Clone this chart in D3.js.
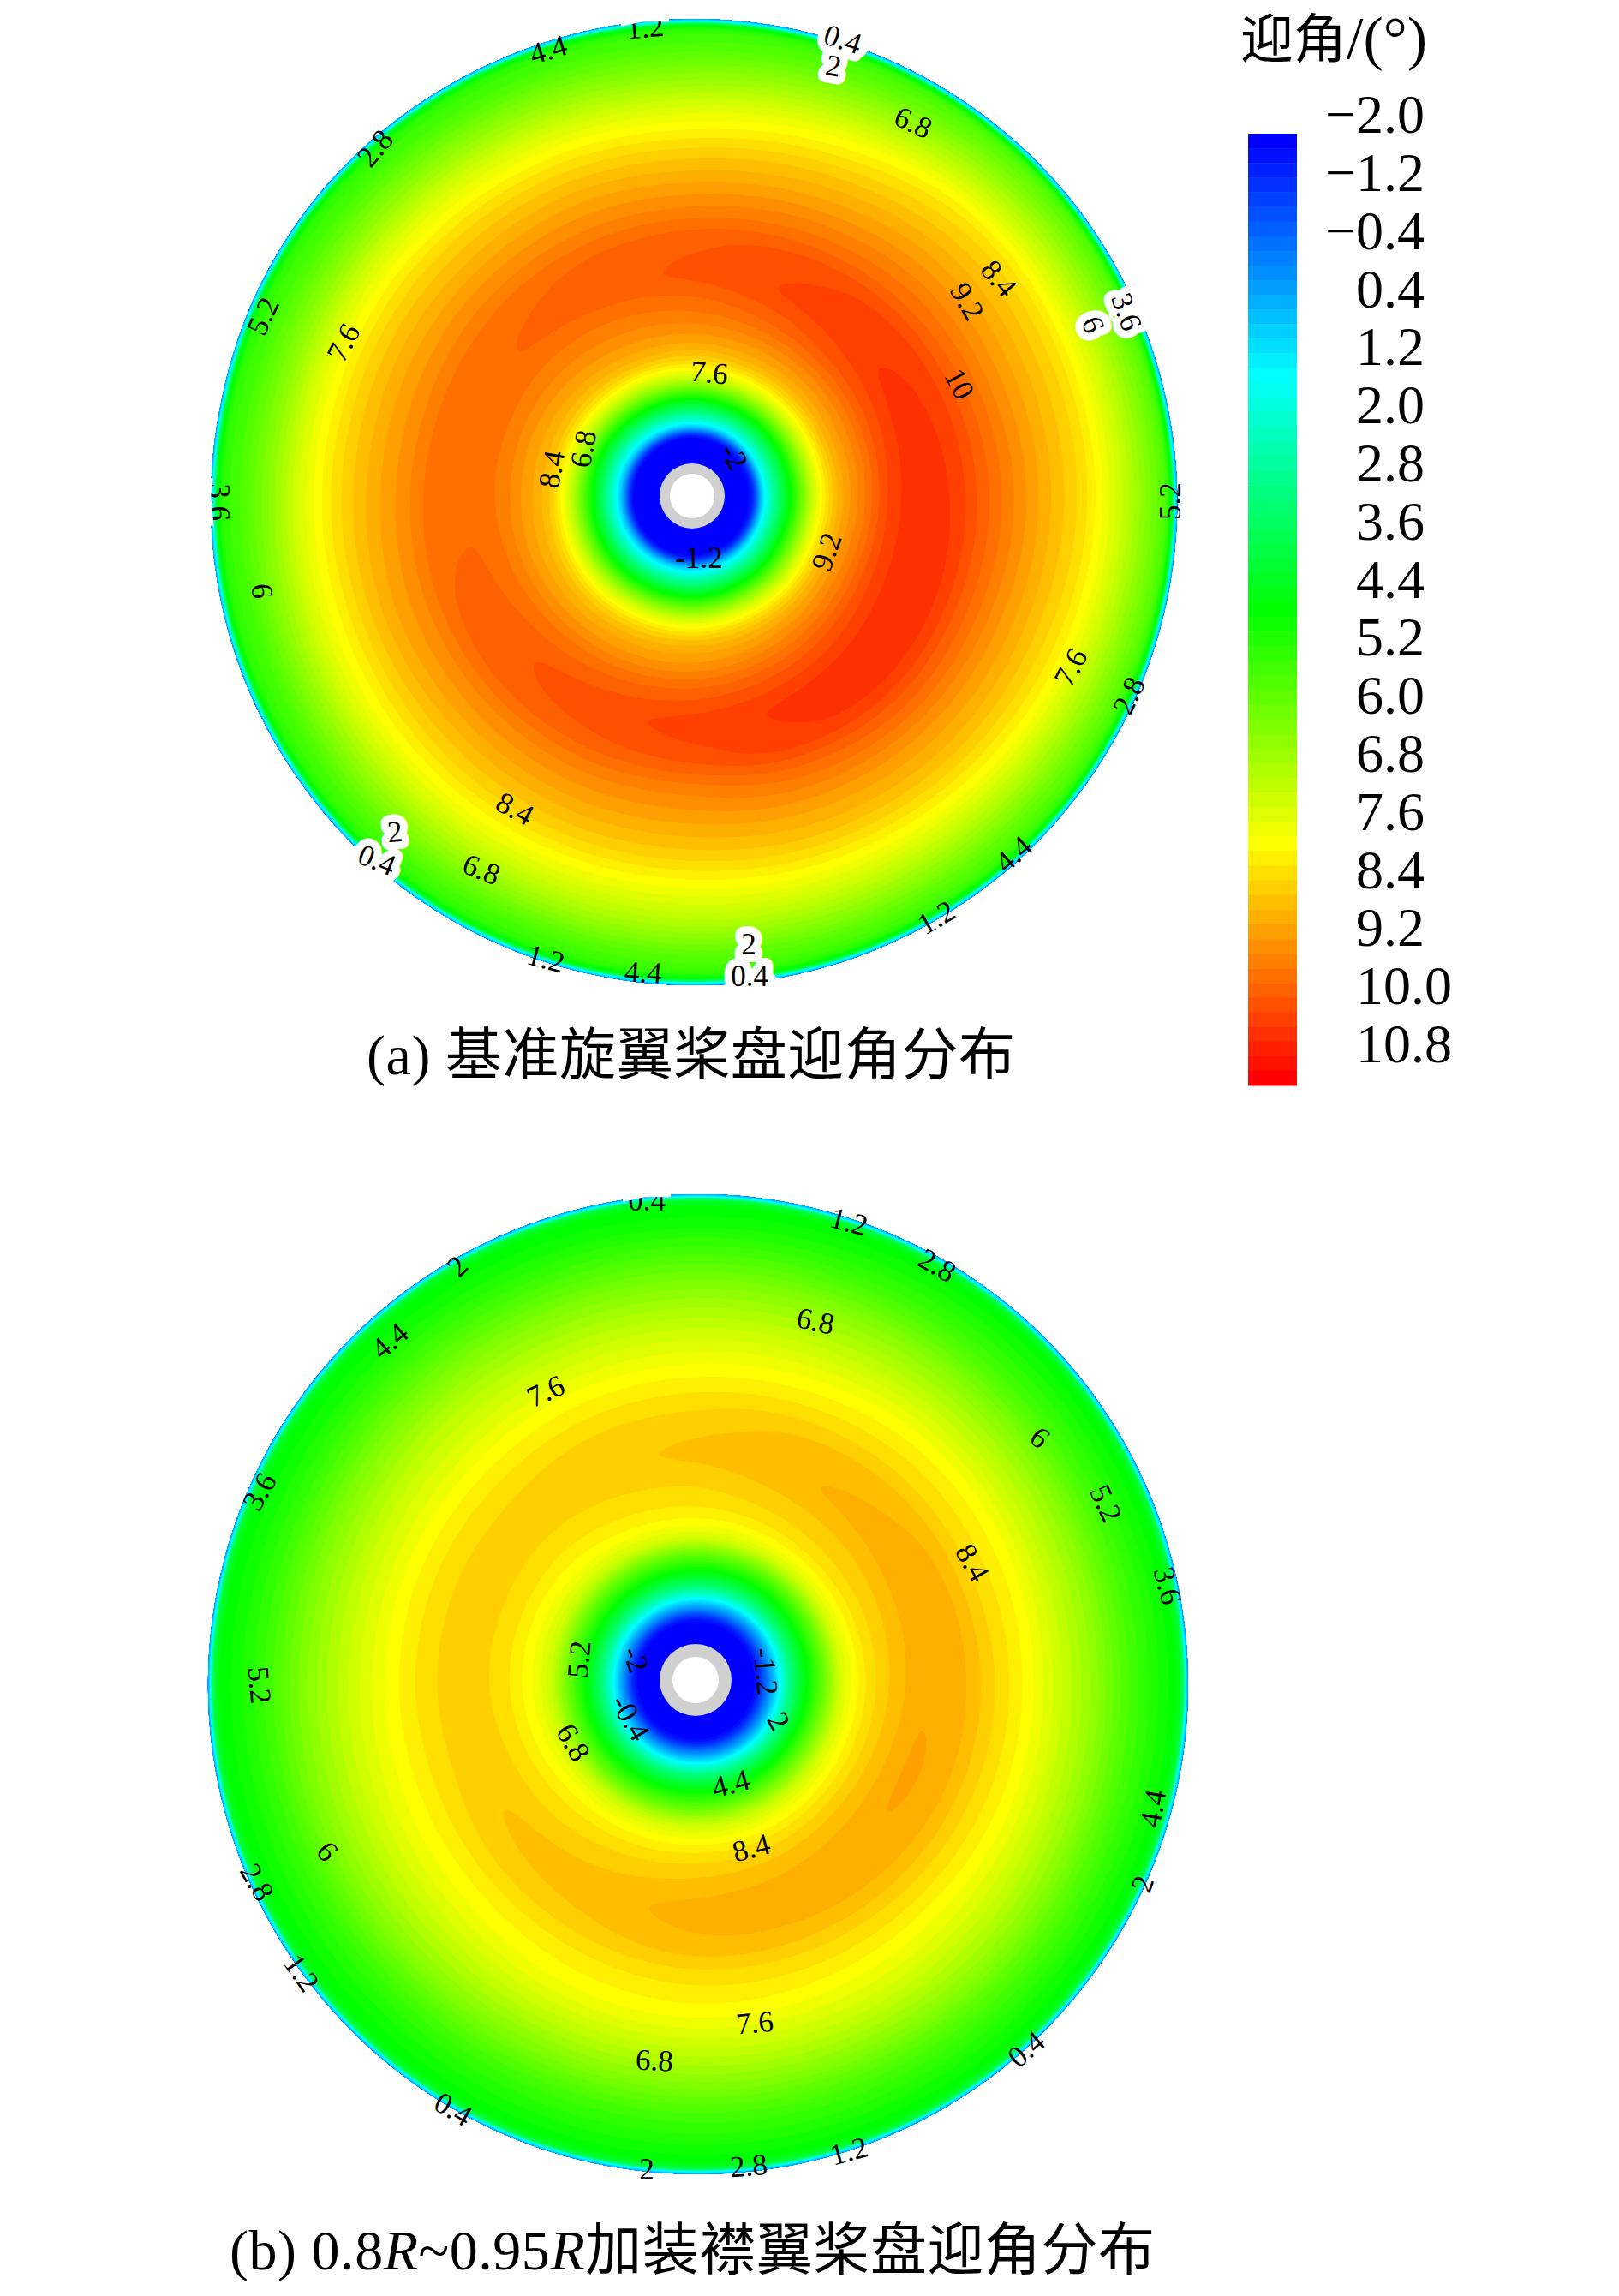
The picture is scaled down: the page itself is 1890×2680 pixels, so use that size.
<!DOCTYPE html>
<html>
<head>
<meta charset="utf-8">
<script src="https://cdn.jsdelivr.net/npm/d3@7"></script>
<style>
  html, body { margin: 0; background: #fff; }
  text { font-family: "Liberation Serif", "Noto Sans CJK SC", serif; fill: #000; }
</style>
</head>
<body>
<svg id="canvas" width="1890" height="2680"></svg>
<script>
// radial stations, fraction of the local rim radius
let stations = [0.06, 0.12, 0.15, 0.2, 0.26, 0.3, 0.35, 0.41, 0.47, 0.53, 0.6, 0.67, 0.74, 0.81, 0.88, 0.94, 0.975, 0.988, 0.996, 1];
// azimuth of each table row, degrees clockwise on screen from the +x side
let azimuths = [0, 22.5, 45, 67.5, 90, 112.5, 135, 157.5, 180, 202.5, 225, 247.5, 270, 292.5, 315, 337.5];

let aoaBaseline = [
  [-3, -1.8, 1.2, 4.3, 7.4, 8.5, 9.2, 9.95, 10.25, 10.1, 9.6, 9.05, 8.5, 7.95, 7, 6, 5.3, 4.2, 1.2, 0.2],
  [-3, -1.8, 1.2, 4.4, 7.5, 8.55, 9.25, 9.95, 10.25, 10.15, 9.6, 9, 8.45, 7.85, 6.9, 5.9, 5.2, 4.2, 1.2, 0.2],
  [-3, -1.9, 1, 4.3, 7.4, 8.5, 9.2, 9.85, 10.2, 10.15, 9.6, 8.95, 8.4, 7.7, 6.7, 5.7, 5.1, 4.1, 1.2, 0.2],
  [-3, -1.9, 0.9, 4.2, 7.4, 8.45, 9.1, 9.75, 10.12, 10.05, 9.45, 8.85, 8.3, 7.55, 6.6, 5.6, 5, 4, 1.2, 0.2],
  [-3, -2, 0.8, 4.1, 7.3, 8.4, 9, 9.65, 9.97, 9.8, 9.2, 8.7, 8.15, 7.4, 6.5, 5.5, 5, 4, 1.2, 0.2],
  [-3, -2, 0.8, 4.1, 7.3, 8.35, 8.95, 9.55, 9.83, 9.68, 9.15, 8.65, 8.1, 7.35, 6.4, 5.4, 4.9, 4, 1.2, 0.2],
  [-3, -2, 0.7, 4, 7.2, 8.3, 8.9, 9.45, 9.69, 9.6, 9.1, 8.6, 8.05, 7.3, 6.3, 5.4, 4.9, 3.9, 1.2, 0.2],
  [-3, -2, 0.7, 4, 7.2, 8.3, 8.85, 9.35, 9.55, 9.5, 9.05, 8.6, 8, 7.25, 6.2, 5.3, 4.9, 3.9, 1.2, 0.2],
  [-3, -2, 0.7, 4, 7.2, 8.35, 8.85, 9.3, 9.45, 9.42, 9, 8.55, 8, 7.2, 6.1, 5.3, 4.9, 3.9, 1.2, 0.2],
  [-3, -2, 0.7, 4, 7.2, 8.35, 8.85, 9.3, 9.45, 9.4, 9, 8.55, 8, 7.2, 6.1, 5.3, 4.9, 3.9, 1.2, 0.2],
  [-3, -2, 0.8, 4.1, 7.3, 8.35, 8.9, 9.3, 9.52, 9.45, 9.05, 8.55, 8, 7.2, 6.15, 5.3, 4.9, 3.9, 1.2, 0.2],
  [-3, -2, 0.9, 4.2, 7.3, 8.4, 8.95, 9.35, 9.63, 9.55, 9.1, 8.6, 8, 7.2, 6.2, 5.35, 4.95, 4, 1.2, 0.2],
  [-3, -2, 1, 4.2, 7.4, 8.4, 9, 9.45, 9.74, 9.65, 9.15, 8.6, 8, 7.2, 6.2, 5.4, 5, 4, 1.2, 0.2],
  [-3, -1.9, 1, 4.3, 7.4, 8.45, 9.05, 9.6, 9.9, 9.8, 9.3, 8.75, 8.2, 7.5, 6.5, 5.6, 5.1, 4.1, 1.2, 0.2],
  [-3, -1.9, 1.1, 4.3, 7.4, 8.45, 9.1, 9.75, 10.02, 9.95, 9.45, 8.95, 8.45, 7.9, 6.9, 5.9, 5.3, 4.2, 1.2, 0.2],
  [-3, -1.8, 1.2, 4.3, 7.4, 8.5, 9.15, 9.85, 10.18, 10.05, 9.55, 9, 8.5, 7.95, 7, 6, 5.3, 4.2, 1.2, 0.2]
];

let aoaGurney = [
  [-3, -1.9, -0.2, 3.2, 5.7, 7.2, 7.95, 8.4, 8.66, 8.58, 8.15, 7.65, 6.95, 6.2, 5.3, 4.7, 4.3, 3.6, 1.1, 0.2],
  [-3, -1.9, -0.2, 3.2, 5.8, 7.2, 7.95, 8.45, 8.72, 8.6, 8.15, 7.65, 7, 6.25, 5.35, 4.7, 4.3, 3.6, 1.1, 0.2],
  [-3, -1.9, -0.2, 3.2, 5.8, 7.15, 7.95, 8.45, 8.67, 8.55, 8.1, 7.6, 7, 6.25, 5.35, 4.7, 4.3, 3.6, 1.1, 0.2],
  [-3, -1.9, -0.2, 3.2, 5.7, 7.1, 7.9, 8.4, 8.62, 8.5, 8.05, 7.6, 7, 6.2, 5.3, 4.7, 4.3, 3.6, 1.1, 0.2],
  [-3, -1.9, -0.1, 3.3, 5.7, 7.1, 7.9, 8.35, 8.56, 8.45, 8, 7.6, 6.95, 6.15, 5.25, 4.7, 4.3, 3.6, 1.1, 0.2],
  [-3, -1.9, -0.1, 3.3, 5.7, 7.1, 7.85, 8.25, 8.44, 8.3, 7.9, 7.5, 6.85, 6.05, 5.2, 4.65, 4.3, 3.6, 1.1, 0.2],
  [-3, -1.9, -0.1, 3.3, 5.7, 7.1, 7.8, 8.15, 8.35, 8.2, 7.8, 7.35, 6.75, 6, 5.15, 4.6, 4.3, 3.6, 1.1, 0.2],
  [-3, -1.9, -0.1, 3.3, 5.7, 7.05, 7.7, 8.1, 8.25, 8.1, 7.75, 7.3, 6.7, 6, 5.15, 4.6, 4.3, 3.6, 1.1, 0.2],
  [-3, -1.9, 0, 3.3, 5.7, 7, 7.65, 8.05, 8.2, 8.1, 7.75, 7.25, 6.65, 5.95, 5.15, 4.6, 4.3, 3.6, 1.1, 0.2],
  [-3, -1.9, 0, 3.3, 5.7, 7, 7.65, 8.05, 8.2, 8.1, 7.75, 7.25, 6.65, 5.95, 5.15, 4.6, 4.3, 3.6, 1.1, 0.2],
  [-3, -1.9, 0, 3.3, 5.7, 7.05, 7.7, 8.05, 8.2, 8.1, 7.75, 7.25, 6.7, 6, 5.2, 4.6, 4.3, 3.6, 1.1, 0.2],
  [-3, -1.9, 0, 3.3, 5.7, 7.15, 7.8, 8.1, 8.25, 8.15, 7.8, 7.3, 6.7, 6, 5.2, 4.6, 4.3, 3.6, 1.1, 0.2],
  [-3, -1.9, 0, 3.3, 5.7, 7.2, 7.85, 8.15, 8.34, 8.2, 7.85, 7.35, 6.75, 6.05, 5.25, 4.6, 4.3, 3.6, 1.1, 0.2],
  [-3, -1.9, -0.1, 3.2, 5.7, 7.2, 7.9, 8.25, 8.46, 8.35, 7.95, 7.45, 6.8, 6.1, 5.25, 4.65, 4.3, 3.6, 1.1, 0.2],
  [-3, -1.9, -0.2, 3.2, 5.7, 7.2, 7.95, 8.3, 8.54, 8.45, 8.05, 7.6, 6.9, 6.15, 5.3, 4.7, 4.3, 3.6, 1.1, 0.2],
  [-3, -1.9, -0.2, 3.2, 5.7, 7.2, 7.95, 8.35, 8.62, 8.55, 8.1, 7.65, 6.95, 6.2, 5.3, 4.7, 4.3, 3.6, 1.1, 0.2]
];

// rim of each disk, every 12 degrees, in units of the nominal radius
let rimBaseline = [1.004, 1.006, 1.008, 1.01, 1.012, 1.012, 1.013, 1.013, 1.012, 1.011, 1.009, 1.007, 1.004, 1.002, 0.999, 0.996, 0.994, 0.995, 0.994, 0.991, 0.988, 0.987, 0.987, 0.988, 0.989, 0.991, 0.993, 0.996, 0.998, 1.001];
let rimGurney = [1.005, 1.007, 1.008, 1.009, 1.01, 1.01, 1.01, 1.009, 1.008, 1.007, 1.005, 1.003, 1.001, 0.999, 0.997, 0.995, 0.993, 0.992, 0.991, 0.99, 0.99, 0.99, 0.991, 0.992, 0.993, 0.995, 0.997, 0.999, 1.001, 1.003];

let legendLabels = ["\u22122.0", "\u22121.2", "\u22120.4", "0.4", "1.2", "2.0", "2.8", "3.6", "4.4", "5.2", "6.0", "6.8", "7.6", "8.4", "9.2", "10.0", "10.8"];
let levels = d3.range(-2.1, 11, 0.2);

// contour labels as Tecplot placed them: text, x, y, rotation, kind (1 white box, 2 cut by the rim)
let labelsBaseline = [
  ["1.2", 753, 32, -5, 2], ["4.4", 640, 58, -17, 0], ["0.4", 984, 46, 18, 1], ["2", 973, 77, 10, 1],
  ["6.8", 1066, 143, 25, 0], ["2.8", 438, 173, -50, 0], ["8.4", 1166, 325, 50, 0], ["9.2", 1129, 352, 60, 0],
  ["3.6", 1315, 364, 70, 1], ["6", 1276, 379, 70, 1], ["5.2", 307, 369, -65, 0], ["7.6", 401, 400, -62, 0],
  ["7.6", 828, 435, 5, 0], ["10", 1120, 448, 62, 0], ["-2", 857, 533, 60, 0], ["6.8", 681, 524, -80, 0],
  ["8.4", 644, 548, -80, 0], ["3.6", 256, 586, 90, 2], ["5.2", 1366, 585, -90, 0], ["9.2", 965, 644, -70, 0],
  ["-1.2", 816, 651, 0, 0], ["6", 306, 690, 85, 0], ["7.6", 1250, 779, -62, 0], ["2.8", 1318, 812, -65, 0],
  ["8.4", 601, 944, 28, 0], ["2", 461, 971, -5, 1], ["0.4", 440, 1004, 22, 1], ["6.8", 562, 1015, 22, 0],
  ["4.4", 1183, 997, -42, 0], ["1.2", 1093, 1071, -30, 0], ["1.2", 637, 1119, 15, 0], ["4.4", 751, 1135, 3, 0],
  ["2", 874, 1102, 0, 1], ["0.4", 875, 1139, 0, 1]
];
let labelsGurney = [
  ["0.4", 755, 1401, 0, 2], ["1.2", 991, 1426, 15, 0], ["2.8", 1094, 1477, 30, 0], ["2", 534, 1478, -45, 0],
  ["6.8", 952, 1542, 12, 0], ["4.4", 455, 1565, -40, 0], ["7.6", 637, 1624, -25, 0], ["6", 1214, 1678, 40, 0],
  ["3.6", 303, 1741, -60, 0], ["5.2", 1291, 1755, 65, 0], ["8.4", 1135, 1824, 60, 0], ["3.6", 1363, 1851, 75, 0],
  ["5.2", 676, 1937, -85, 0], ["-2", 742, 1937, 70, 0], ["-1.2", 894, 1951, 85, 0], ["5.2", 303, 1967, 85, 0],
  ["2", 909, 2009, 60, 0], ["-0.4", 736, 2005, 60, 0], ["6.8", 669, 2034, 60, 0], ["4.4", 853, 2082, -15, 0],
  ["4.4", 1346, 2111, -80, 0], ["8.4", 877, 2157, -15, 0], ["6", 382, 2161, 50, 0], ["2", 1334, 2199, -70, 0],
  ["2.8", 300, 2197, 60, 0], ["1.2", 352, 2303, 55, 0], ["7.6", 881, 2361, -5, 0], ["0.4", 1198, 2392, -40, 0],
  ["6.8", 764, 2405, 3, 0], ["0.4", 529, 2462, 30, 0], ["1.2", 991, 2511, -15, 0], ["2.8", 874, 2528, -5, 0],
  ["2", 755, 2532, 0, 0]
];

let colour = d3.scaleLinear()
  .domain([-2, 1.2, 4.4, 7.6, 10.8])
  .range(["#0000ff", "#00ffff", "#00ff00", "#ffff00", "#ff0000"])
  .clamp(true);

let svg = d3.select("#canvas");

// periodic Catmull-Rom across azimuth
let acrossAzimuth = (table, j, az) => {
  let n = azimuths.length;
  let p = (((az % 360) + 360) % 360) / (360 / n);
  let i = Math.floor(p);
  let t = p - i;
  let v = (k) => table[(i + k + n) % n][j];
  return 0.5 * (2 * v(0) + (v(1) - v(-1)) * t +
    (2 * v(-1) - 5 * v(0) + 4 * v(1) - v(2)) * t * t +
    (3 * v(0) - v(-1) - 3 * v(1) + v(2)) * t * t * t);
};

// monotone Hermite across the radial stations
let slopes = (vals) => {
  return vals.map((v, i) => {
    if (i === 0 || i === vals.length - 1) return 0;
    let a = (v - vals[i - 1]) / (stations[i] - stations[i - 1]);
    let b = (vals[i + 1] - v) / (stations[i + 1] - stations[i]);
    return a * b <= 0 ? 0 : (2 * a * b) / (a + b);
  });
};
let acrossRadius = (vals, m, s) => {
  let i = Math.min(d3.bisectRight(stations, s) - 1, stations.length - 2);
  let h = stations[i + 1] - stations[i];
  let t = (s - stations[i]) / h;
  return (2 * t * t * t - 3 * t * t + 1) * vals[i] + (t * t * t - 2 * t * t + t) * h * m[i] +
    (-2 * t * t * t + 3 * t * t) * vals[i + 1] + (t * t * t - t * t) * h * m[i + 1];
};

let drawDisk = (table, rimTable, labels, cx, cy, radius, hubOuter, hubInner) => {
  let nAz = 720, nS = 500;
  let rimScale = d3.scaleLinear().domain(d3.range(0, 361, 12)).range(rimTable.concat(rimTable[0]));
  let azOfCol = d3.scaleLinear().domain([0.5, nAz - 0.5]).range([-1, 361]).clamp(true);
  let sOfRow = d3.scaleLinear().domain([0.5, nS - 0.5]).range([stations[0], 1]).clamp(true);

  let grid = new Float64Array(nAz * nS);
  for (let c = 0; c < nAz; c++) {
    let az = azOfCol(c + 0.5);
    let vals = stations.map((_, j) => acrossAzimuth(table, j, az));
    let m = slopes(vals);
    for (let r = 0; r < nS; r++) {
      grid[r * nAz + c] = acrossRadius(vals, m, sOfRow(r + 0.5));
    }
  }

  let project = ([col, row]) => {
    let az = azOfCol(col);
    let wrapped = ((az % 360) + 360) % 360;
    let r = sOfRow(row) * rimScale(wrapped) * radius;
    let a = (az * Math.PI) / 180;
    return [cx + r * Math.cos(a), cy + r * Math.sin(a)];
  };

  let contours = d3.contours().size([nAz, nS]).thresholds(levels)(grid);
  let pathOf = (c) => {
    return c.coordinates.map((poly) => {
      return poly.map((ring) => "M" + ring.map(project).map((p) => p[0].toFixed(1) + "," + p[1].toFixed(1)).join("L") + "Z").join("");
    }).join("");
  };

  let rimPath = "M" + d3.range(0, 360, 12).map((az) => {
    let r = rimScale(az) * radius;
    let a = (az * Math.PI) / 180;
    return (cx + r * Math.cos(a)).toFixed(1) + "," + (cy + r * Math.sin(a)).toFixed(1);
  }).join("L") + "Z";

  let disk = svg.append("g").style("filter", "blur(0.7px)");
  disk.append("path").attr("d", rimPath).attr("fill", colour(-2));
  disk.selectAll("path.band")
    .data(contours)
    .enter()
    .append("path")
    .attr("class", "band")
    .attr("d", pathOf)
    .attr("fill", (d) => colour(d.value + 0.1));

  disk.append("circle").attr("cx", cx).attr("cy", cy).attr("r", hubOuter).attr("fill", "#d0d0d0");
  disk.append("circle").attr("cx", cx).attr("cy", cy).attr("r", hubInner).attr("fill", "#fff");

  let place = (d) => `translate(${d[1]},${d[2]}) rotate(${d[3]})`;
  svg.append("g").selectAll("text")
    .data(labels.filter((d) => d[4] === 1))
    .enter()
    .append("text")
    .attr("transform", place)
    .attr("text-anchor", "middle")
    .attr("dy", "0.33em")
    .attr("font-size", 35)
    .style("fill", "#fff")
    .style("stroke", "#fff")
    .style("stroke-width", 18)
    .style("stroke-linejoin", "round")
    .text((d) => d[0]);
  svg.append("g").selectAll("text")
    .data(labels)
    .enter()
    .append("text")
    .attr("transform", place)
    .attr("text-anchor", "middle")
    .attr("dy", "0.33em")
    .attr("font-size", 35)
    .text((d) => d[0]);

  // the few labels the rim cuts: white out what sticks out past it
  let id = "cut" + Math.round(cy);
  let clip = svg.append("clipPath").attr("id", id);
  labels.filter((d) => d[4] === 2).forEach((d) => {
    clip.append("rect").attr("x", d[1] - 28).attr("y", d[2] - 28).attr("width", 56).attr("height", 56);
  });
  svg.append("path")
    .attr("d", "M0,0H1890V2680H0Z" + rimPath)
    .attr("fill", "#fff")
    .attr("fill-rule", "evenodd")
    .attr("clip-path", "url(#" + id + ")");
};

drawDisk(aoaBaseline, rimBaseline, labelsBaseline, 808, 579, 564, 38, 26);
drawDisk(aoaGurney, rimGurney, labelsGurney, 812, 1961, 572, 42, 27);

// legend
let barY = d3.scaleLinear().domain([-2.1, 10.9]).range([156, 1267]);
svg.append("g")
  .selectAll("rect")
  .data(levels.filter((d) => d < 10.8))
  .enter()
  .append("rect")
  .attr("x", 1457)
  .attr("width", 57)
  .attr("y", (d) => barY(d))
  .attr("height", (d) => barY(d + 0.2) - barY(d) + 0.5)
  .attr("fill", (d) => colour(d + 0.1));

let labelY = d3.scalePoint().domain(legendLabels).range([134, 1219]);
svg.append("g")
  .selectAll("text")
  .data(legendLabels)
  .enter()
  .append("text")
  .attr("x", (d) => (d.startsWith("10") ? 1695 : 1663))
  .attr("y", (d) => labelY(d))
  .attr("dy", "0.33em")
  .attr("text-anchor", "end")
  .attr("font-size", 64)
  .text((d) => d);

let title = svg.append("text").attr("x", 1448).attr("y", 68);
title.append("tspan").attr("font-size", 62).text("迎角");
title.append("tspan").attr("font-size", 70).text("/(°)");

// captions
let capA = svg.append("text").attr("x", 428).attr("y", 1254).attr("font-size", 66).attr("textLength", 757);
capA.text("(a) 基准旋翼桨盘迎角分布");

let capB = svg.append("text").attr("x", 268).attr("y", 2649).attr("font-size", 66).attr("textLength", 1080);
capB.append("tspan").text("(b) 0.8");
capB.append("tspan").attr("font-style", "italic").text("R");
capB.append("tspan").text("~0.95");
capB.append("tspan").attr("font-style", "italic").text("R");
capB.append("tspan").text("加装襟翼桨盘迎角分布");
</script>
</body>
</html>
